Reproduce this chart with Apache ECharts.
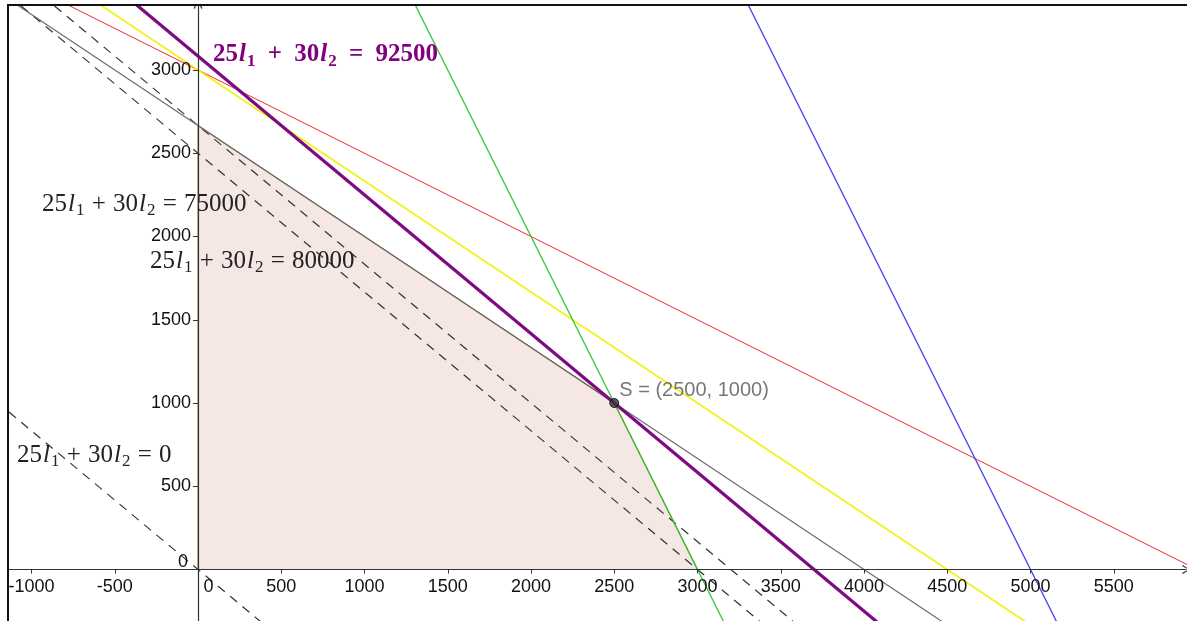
<!DOCTYPE html>
<html>
<head>
<meta charset="utf-8">
<script src="https://cdn.jsdelivr.net/npm/echarts@6/dist/echarts.min.js"></script>
<style>
html,body{margin:0;padding:0;background:#fff;}
#chart{width:1187px;height:621px;}
</style>
</head>
<body>
<div id="chart"></div>
<script>
// ---- data ----
const tickStep = 500;
const redLine      = [[-2000, 4000], [6000, 0]];      // l1 + 2 l2 = 6000
const yellowLine   = [[-1500, 4000], [6000, -1000]];  // 2 l1 + 3 l2 = 9000
const greenLine    = [[1000, 4000], [3500, -1000]];   // 2 l1 + l2 = 6000
const blueLine     = [[3000, 4000], [5500, -1000]];   // 2 l1 + l2 = 10000
const grayLine     = [[-2000, 4000], [5500, -1000]];  // 2 l1 + 3 l2 = 8000
const iso92500     = [[-500, 3500], [4900, -1000]];
const iso80000     = [[-1600, 4000], [4400, -1000]];
const iso75000     = [[-1800, 4000], [4200, -1000]];
const iso0         = [[-1800, 1500], [1200, -1000]];
const feasibleRegion = [[0, 0], [0, 2666.67], [2500, 1000], [3000, 0]];
const optimum      = [[2500, 1000]];
const isoValues    = [92500, 75000, 80000, 0];

// ---- layout ----
const K = 0.1665;               // px per unit
const X_MIN = -1500, Y_MIN = -500;
const ORIGIN_X = 198, ORIGIN_Y = 569.5;
const gridLeft = ORIGIN_X - (-X_MIN) * K;
const gridTop = 5;
const gridWidth = 1186 - gridLeft;
const gridHeight = (ORIGIN_Y + (-Y_MIN) * K) - gridTop;
const X_MAX = X_MIN + gridWidth / K;
const Y_MAX = Y_MIN + gridHeight / K;
const xAxisOffset = -((gridTop + gridHeight) - ORIGIN_Y);
const yAxisOffset = -(ORIGIN_X - gridLeft);

const chart = echarts.init(document.getElementById('chart'), null, {renderer: 'canvas'});

const axisFont = {fontFamily: 'Liberation Sans, Arial, sans-serif', fontSize: 18, color: '#111'};
const arrowPath = 'path://M5 0 L10 8 L9 9 L5 2 L1 9 L0 8 Z';

function lineSeries(data, color, width, type, z) {
  return {
    type: 'line', data: data, showSymbol: false, symbol: 'none', silent: true,
    clip: true, z: z || 3, animation: false,
    lineStyle: {color: color, width: width, type: type || 'solid'}
  };
}

function eqRich(color, bold, size, opPad) {
  const fam = 'Liberation Serif, Times New Roman, serif';
  const w = bold ? 'bold' : 'normal';
  return {
    n: {fontFamily: fam, fontSize: size, fontWeight: w, fill: color, color: color, lineHeight: 30},
    o: {fontFamily: fam, fontSize: size, fontWeight: w, fill: color, color: color, lineHeight: 30, padding: [0, opPad]},
    i: {fontFamily: fam, fontSize: size, fontWeight: w, fontStyle: 'italic', fill: color, color: color, lineHeight: 30, padding: [0, 1, 0, 1]},
    s: {fontFamily: fam, fontSize: Math.round(size * 0.68), fontWeight: w, fill: color, color: color, lineHeight: 15, verticalAlign: 'bottom'}
  };
}
function eqText(v) {
  return '{n|25}{i|l}{s|1}{o| + }{n|30}{i|l}{s|2}{o| = }{n|' + v + '}';
}
function eqLabel(v, x, y, color, bold, size, opPad) {
  return {
    type: 'text', x: x, y: y, z: 50, silent: true,
    style: {
      text: eqText(v), rich: eqRich(color, bold, size, opPad), fill: color,
      align: 'left', verticalAlign: 'middle', textAlign: 'left', textVerticalAlign: 'middle'
    }
  };
}

const option = {
  backgroundColor: '#ffffff',
  animation: false,
  grid: {left: gridLeft, top: gridTop, width: gridWidth, height: gridHeight,
         containLabel: false, outerBoundsMode: 'none'},
  xAxis: {
    type: 'value', min: X_MIN, max: X_MAX, interval: tickStep,
    position: 'bottom', offset: xAxisOffset, z: 5,
    axisLine: {onZero: false, lineStyle: {color: '#333', width: 1.2}, symbol: ['none', arrowPath], symbolSize: [9, 8]},
    axisTick: {show: true, length: 4, lineStyle: {color: '#333'}},
    splitLine: {show: false},
    axisLabel: Object.assign({}, axisFont, {
      margin: 9, showMinLabel: false, showMaxLabel: false, hideOverlap: false,
      formatter: function (v) { return v === 0 ? '{z|0}' : String(v); },
      rich: {z: {fontFamily: axisFont.fontFamily, fontSize: 18, color: '#111', padding: [0, 0, 0, 21]}}
    })
  },
  yAxis: {
    type: 'value', min: Y_MIN, max: Y_MAX, interval: tickStep,
    position: 'left', offset: yAxisOffset, z: 5,
    axisLine: {onZero: false, lineStyle: {color: '#333', width: 1.2}, symbol: ['none', arrowPath], symbolSize: [9, 8]},
    axisTick: {show: true, length: 5, lineStyle: {color: '#333'}},
    splitLine: {show: false},
    axisLabel: Object.assign({}, axisFont, {
      margin: 7, showMinLabel: false, showMaxLabel: false, hideOverlap: false,
      formatter: function (v) { return v === 0 ? '{z|0}' : String(v); },
      rich: {z: {fontFamily: axisFont.fontFamily, fontSize: 18, color: '#111', padding: [0, 3, 15, 0]}}
    })
  },
  series: [
    {
      type: 'custom', z: 1, silent: true, clip: true, animation: false,
      data: [0],
      renderItem: function (params, api) {
        const pts = feasibleRegion.map(function (p) { return api.coord(p); });
        return {type: 'polygon', shape: {points: pts},
                style: {fill: 'rgba(228,192,180,0.36)', stroke: '#a87a4c', lineWidth: 1.2}};
      }
    },
    lineSeries(iso0, '#333', 1.2, [9, 7], 2),
    lineSeries(iso75000, '#333', 1.2, [9, 7], 2),
    lineSeries(iso80000, '#333', 1.2, [9, 7], 2),
    lineSeries(grayLine, '#6a6a6a', 1.2, 'solid', 3),
    lineSeries(redLine, '#ee2b2b', 1, 'solid', 3),
    lineSeries(yellowLine, '#f2f200', 1.6, 'solid', 3),
    lineSeries(greenLine, '#2ec42e', 1.2, 'solid', 3),
    lineSeries(blueLine, '#3a3aee', 1.2, 'solid', 3),
    lineSeries(iso92500, '#7d0a82', 3.2, 'solid', 4),
    {
      type: 'scatter', data: optimum, z: 6, silent: true, animation: false,
      symbol: 'circle', symbolSize: 9,
      itemStyle: {color: '#333', borderColor: '#000', borderWidth: 1},
      label: {
        show: true, position: [10, -8], align: 'left', verticalAlign: 'middle',
        fontFamily: 'Liberation Sans, Arial, sans-serif', fontSize: 20, color: '#555',
        formatter: function (p) { return 'S = (' + p.value[0] + ', ' + p.value[1] + ')'; }
      }
    }
  ],
  graphic: {
    elements: [
      {type: 'rect', z: 90, silent: true, shape: {x: 0, y: 0, width: 8, height: 621}, style: {fill: '#fff'}},
      {type: 'rect', z: 90, silent: true, shape: {x: 0, y: 0, width: 1187, height: 5}, style: {fill: '#fff'}},
      {type: 'rect', z: 91, silent: true, shape: {x: 8, y: 5, width: 1300, height: 700}, style: {fill: 'none', stroke: '#111', lineWidth: 2}},
      eqLabel(isoValues[0], 213, 55, '#800080', true, 25, 6),
      eqLabel(isoValues[1], 42, 204, '#222', false, 25, 1),
      eqLabel(isoValues[2], 150, 261, '#222', false, 25, 1),
      eqLabel(isoValues[3], 17, 455, '#222', false, 25, 1)
    ]
  }
};
chart.setOption(option);
</script>
</body>
</html>
